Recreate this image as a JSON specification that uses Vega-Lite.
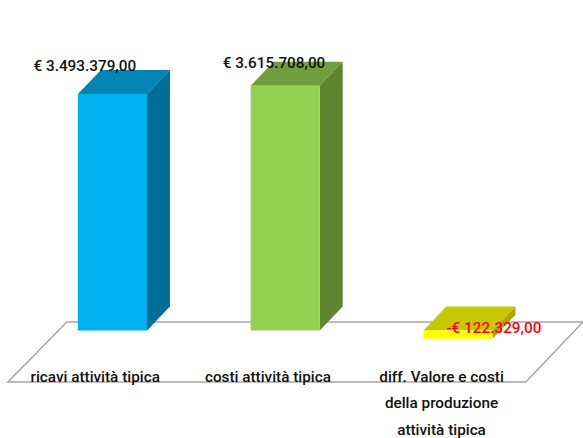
{
"$schema":"https://vega.github.io/schema/vega-lite/v6.json",
"width":583,"height":438,"autosize":{"type":"none"},
"padding":0,"background":"white","view":{"stroke":null},
"datasets":{
"bars":[
{"name":"ricavi attività tipica","value":3493379,"left":-0.2,"right":0.2},
{"name":"costi attività tipica","value":3615708,"left":0.8,"right":1.2},
{"name":"diff. Valore e costi della produzione attività tipica","value":-122329,"left":1.8,"right":2.2}
],
"tops":[
{"name":"ricavi attività tipica","level":3493379,"from":-0.2,"to":0.2},
{"name":"ricavi attività tipica","level":3848000,"from":-0.067,"to":0.333},
{"name":"costi attività tipica","level":3615708,"from":0.8,"to":1.2},
{"name":"costi attività tipica","level":3970000,"from":0.933,"to":1.333},
{"name":"diff. Valore e costi della produzione attività tipica","level":0,"from":1.8,"to":2.2},
{"name":"diff. Valore e costi della produzione attività tipica","level":355000,"from":1.933,"to":2.333}
],
"sides":[
{"name":"ricavi attività tipica","pos":0.2,"low":0,"high":3493379},
{"name":"ricavi attività tipica","pos":0.333,"low":355000,"high":3848000},
{"name":"costi attività tipica","pos":1.2,"low":0,"high":3615708},
{"name":"costi attività tipica","pos":1.333,"low":355000,"high":3970000},
{"name":"diff. Valore e costi della produzione attività tipica","pos":2.2,"low":-122329,"high":0},
{"name":"diff. Valore e costi della produzione attività tipica","pos":2.333,"low":232671,"high":355000}
],
"floor":[
{"level":125000,"from":-0.264,"to":2.724},
{"level":-760000,"from":-0.605,"to":2.393}
],
"valueLabels":[
{"label":"€ 3.493.379,00","pos":-0.16,"level":3900000},
{"label":"€ 3.615.708,00","pos":0.935,"level":3945000},
{"label":"-€ 122.329,00","pos":2.208,"level":40000}
],
"categoryLabels":[
{"label":"ricavi attività tipica","pos":-0.1,"level":-680000},
{"label":"costi attività tipica","pos":0.9,"level":-680000},
{"label":"diff. Valore e costi","pos":1.905,"level":-680000},
{"label":"della produzione","pos":1.905,"level":-1075000},
{"label":"attività tipica","pos":1.905,"level":-1465000}
]
},
"encoding":{},
"layer":[
{"data":{"name":"floor"},
 "mark":{"type":"area","orient":"horizontal","fill":"white","stroke":"#a6a6a6","strokeWidth":1.5},
 "encoding":{
  "y":{"field":"level","type":"quantitative","scale":{"domain":[-1588000,4882000],"nice":false,"zero":false},"axis":null},
  "x":{"field":"from","type":"quantitative","scale":{"domain":[-0.651,2.724],"nice":false,"zero":false},"axis":null},
  "x2":{"field":"to"}}},
{"data":{"name":"tops"},
 "mark":{"type":"area","orient":"horizontal"},
 "encoding":{
  "y":{"field":"level","type":"quantitative","axis":null},
  "x":{"field":"from","type":"quantitative","axis":null},
  "x2":{"field":"to"},
  "fill":{"field":"name","type":"nominal","legend":null,"scale":{"domain":["ricavi attività tipica","costi attività tipica","diff. Valore e costi della produzione attività tipica"],"range":["#0085b5","#6f9f3e","#c8c800"]}}}},
{"data":{"name":"sides"},
 "mark":{"type":"area","orient":"vertical"},
 "encoding":{
  "x":{"field":"pos","type":"quantitative","axis":null},
  "y":{"field":"low","type":"quantitative","axis":null},
  "y2":{"field":"high"},
  "fill":{"field":"name","type":"nominal","legend":null,"scale":{"domain":["ricavi attività tipica","costi attività tipica","diff. Valore e costi della produzione attività tipica"],"range":["#006e97","#5e8532","#a8a800"]}}}},
{"data":{"name":"bars"},
 "mark":{"type":"rect"},
 "encoding":{
  "x":{"field":"left","type":"quantitative","axis":null},
  "x2":{"field":"right"},
  "y":{"field":"value","type":"quantitative","axis":null},
  "y2":{"datum":0},
  "fill":{"field":"name","type":"nominal","legend":null,"scale":{"domain":["ricavi attività tipica","costi attività tipica","diff. Valore e costi della produzione attività tipica"],"range":["#00b0f0","#92d050","#ffff00"]}}}},
{"data":{"name":"valueLabels"},
 "mark":{"type":"text","font":"Roboto","fontWeight":500,"fontSize":15.3,"align":"center","baseline":"middle"},
 "encoding":{
  "x":{"field":"pos","type":"quantitative","axis":null},
  "y":{"field":"level","type":"quantitative","axis":null},
  "text":{"field":"label"},
  "color":{"condition":{"test":"indexof(datum.label,'-')===0","value":"#ff0000"},"value":"#111111"}}},
{"data":{"name":"categoryLabels"},
 "mark":{"type":"text","font":"Roboto","fontWeight":500,"fontSize":15.3,"align":"center","baseline":"middle","color":"#111111"},
 "encoding":{
  "x":{"field":"pos","type":"quantitative","axis":null},
  "y":{"field":"level","type":"quantitative","axis":null},
  "text":{"field":"label"}}}
],
"resolve":{"scale":{"fill":"independent"}}
}
